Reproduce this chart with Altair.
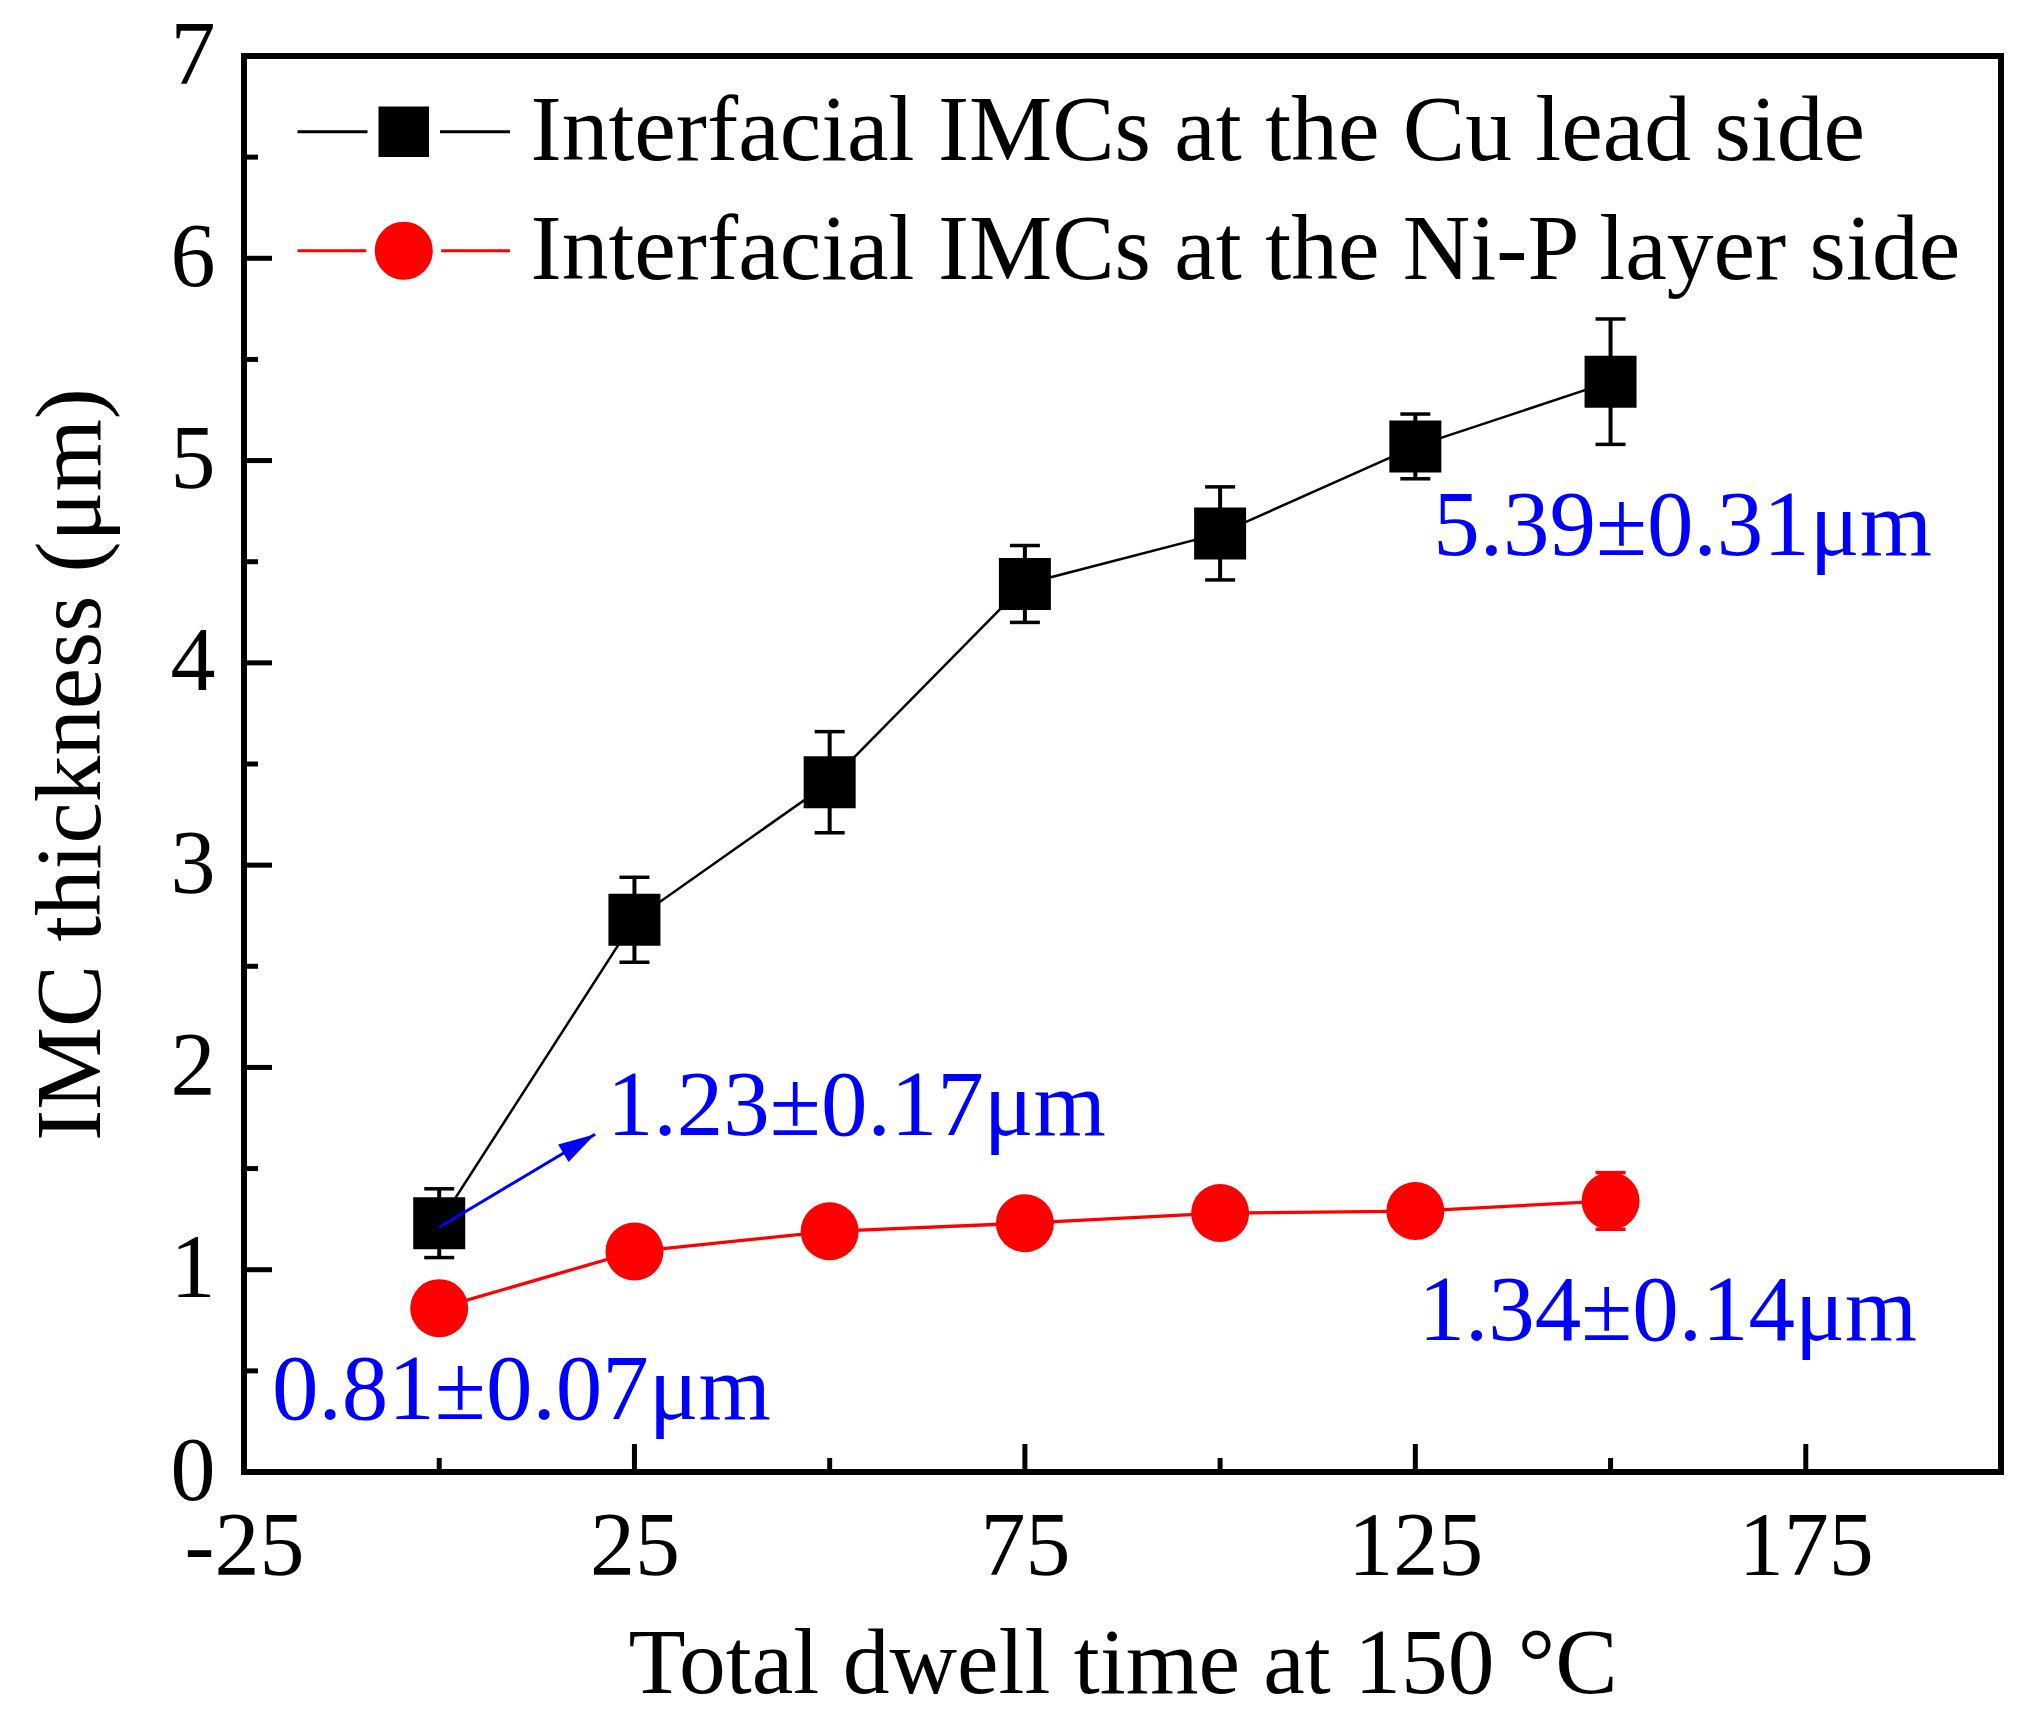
import altair as alt
import pandas as pd

# ---------------- data ----------------
times = [0, 25, 50, 75, 100, 125, 150]
cu_mean = [1.23, 2.73, 3.41, 4.39, 4.64, 5.07, 5.39]
cu_err = [0.17, 0.21, 0.25, 0.19, 0.23, 0.16, 0.31]
ni_mean = [0.81, 1.09, 1.19, 1.23, 1.28, 1.29, 1.34]
ni_err = [0.07, 0.08, 0.09, 0.08, 0.10, 0.09, 0.14]

series_names = ["Interfacial IMCs at the Cu lead side",
                "Interfacial IMCs at the Ni-P layer side"]
series_colors = ["#000000", "#ff0000"]

x_major = [-25, 25, 75, 125, 175]
x_minor = [0, 50, 100, 150, 200]
y_major = [0, 1, 2, 3, 4, 5, 6, 7]
y_minor = [0.5, 1.5, 2.5, 3.5, 4.5, 5.5, 6.5]

notes_text = ["1.23\u00b10.17\u03bcm", "5.39\u00b10.31\u03bcm",
              "1.34\u00b10.14\u03bcm", "0.81\u00b10.07\u03bcm"]
notes_x = [21.5, 127.3, 125.4, -21.4]
notes_y = [1.666, 4.533, 0.652, 0.26]

arrow_start = [0.0, 1.21]
arrow_end = [19.96, 1.67]

FONT = "Liberation Serif"

rows = []
for name, means, errs in [(series_names[0], cu_mean, cu_err),
                          (series_names[1], ni_mean, ni_err)]:
    for t, m, e in zip(times, means, errs):
        rows.append({"series": name, "t": t, "v": m, "lo": m - e, "hi": m + e})
df = pd.DataFrame(rows)

xs = alt.Scale(domain=[-25, 200], nice=False, zero=False)
ys = alt.Scale(domain=[0, 7], nice=False, zero=False)

X_AXIS = alt.Axis(values=x_major, title="Total dwell time at 150 \u00b0C",
                  labelExpr="'' + datum.value",
                  ticks=False, domain=False, grid=False, labelFlush=False,
                  labelFont=FONT, labelFontSize=90, labelColor="black",
                  labelPadding=31, titleFont=FONT, titleFontSize=93.5,
                  titleFontWeight="normal", titleColor="black",
                  titlePadding=26)
Y_AXIS = alt.Axis(values=y_major, title="IMC thickness (\u03bcm)",
                  labelExpr="'' + datum.value",
                  ticks=False, domain=False, grid=False,
                  labelFont=FONT, labelFontSize=90, labelColor="black",
                  labelPadding=29, titleFont=FONT, titleFontSize=93,
                  titleFontWeight="normal", titleColor="black",
                  titlePadding=51)


def xq(f):
    return alt.X(f, type="quantitative", scale=xs, axis=X_AXIS)


def yq(f):
    return alt.Y(f, type="quantitative", scale=ys, axis=Y_AXIS)


base = alt.Chart(df)
layers = []

# ---- inward ticks ----
def xticks(vals, L):
    return alt.Chart(pd.DataFrame({"v": vals, "z": [0] * len(vals)})).mark_tick(
        orient="vertical", size=L, thickness=5, yOffset=-L / 2, color="black",
        opacity=1
    ).encode(x=xq("v"), y=yq("z"))


def yticks(vals, L):
    return alt.Chart(pd.DataFrame({"v": vals, "z": [-25] * len(vals)})).mark_tick(
        orient="horizontal", size=L, thickness=5, xOffset=L / 2, color="black",
        opacity=1
    ).encode(y=yq("v"), x=xq("z"))


shapes = ["square", "circle"]
sizes = [2704, 3364]
lw = [2.5, 3.3]
for i, name in enumerate(series_names):
    s = base.transform_filter(alt.datum.series == name)
    col = series_colors[i]
    layers.append(s.mark_line(color=col, strokeWidth=lw[i]).encode(x=xq("t"), y=yq("v")))

layers += [xticks(x_major, 28), xticks(x_minor, 14),
           yticks(y_major, 28), yticks(y_minor, 14)]

for i, name in enumerate(series_names):
    s = base.transform_filter(alt.datum.series == name)
    col = series_colors[i]
    layers.append(s.mark_rule(color=col, strokeWidth=4, opacity=1).encode(
        x=xq("t"), y=yq("lo"), y2="hi:Q"))
    for f in ["lo", "hi"]:
        layers.append(s.mark_tick(orient="horizontal", size=30, thickness=3.5,
                                  color=col, opacity=1).encode(x=xq("t"), y=yq(f)))
    layers.append(s.mark_point(shape=shapes[i], size=sizes[i], filled=True,
                               opacity=1, color=col).encode(x=xq("t"), y=yq("v")))

# ---- arrow annotation ----
arrow_df = pd.DataFrame({"x1": [arrow_start[0]], "y1": [arrow_start[1]],
                         "x2": [arrow_end[0]], "y2": [arrow_end[1]]})
layers.append(alt.Chart(arrow_df).mark_rule(color="#0000ff", strokeWidth=3).encode(
    x=xq("x1"), y=yq("y1"), x2="x2:Q", y2="y2:Q"))
layers.append(alt.Chart(arrow_df).mark_point(
    shape="M0,0L-2,-0.55L-2,0.55Z", size=1369, filled=True, opacity=1,
    color="#0000ff", angle=329).encode(x=xq("x2"), y=yq("y2")))

# ---- value labels ----
notes_df = pd.DataFrame({"txt": notes_text, "x": notes_x, "y": notes_y})
layers.append(alt.Chart(notes_df).mark_text(
    align="left", baseline="alphabetic", font=FONT, fontSize=93,
    color="#0000ff").encode(x=xq("x"), y=yq("y"), text="txt:N"))

# ---- legend (line-marker-line symbols) ----
leg_paths = ["M-4.25,0H-1.45M1.45,0H4.25M-0.95,-0.95H0.95V0.95H-0.95Z",
             "M-4.25,0H-1.5M1.5,0H4.25M-1.1,0A1.1,1.1,0,1,0,1.1,0A1.1,1.1,0,1,0,-1.1,0Z"]
leg = alt.Legend(title=None, orient="none", legendX=113, legendY=29,
                 symbolSize=2500, symbolOffset=0, symbolOpacity=1,
                 symbolStrokeWidth=3, labelOffset=80, labelFont=FONT,
                 labelFontSize=93.5, labelColor="black", labelLimit=3000,
                 rowPadding=24, padding=0, labelBaseline="middle")
layers.append(base.mark_point(filled=True, opacity=0, strokeWidth=3).encode(
    x=xq("t"), y=yq("v"),
    shape=alt.Shape("series:N", scale=alt.Scale(domain=series_names, range=leg_paths),
                    legend=leg),
    fill=alt.Fill("series:N", scale=alt.Scale(domain=series_names, range=series_colors),
                  legend=leg),
    stroke=alt.Stroke("series:N", scale=alt.Scale(domain=series_names, range=series_colors),
                      legend=leg)))

chart = alt.layer(*layers).properties(
    width=1757, height=1416,
    padding={"left": 17, "top": 3, "right": 5, "bottom": 5}
).configure(background="white").configure_view(stroke="black", strokeWidth=6)

chart.save("out.html", embed_options={"renderer": "svg", "actions": False})
